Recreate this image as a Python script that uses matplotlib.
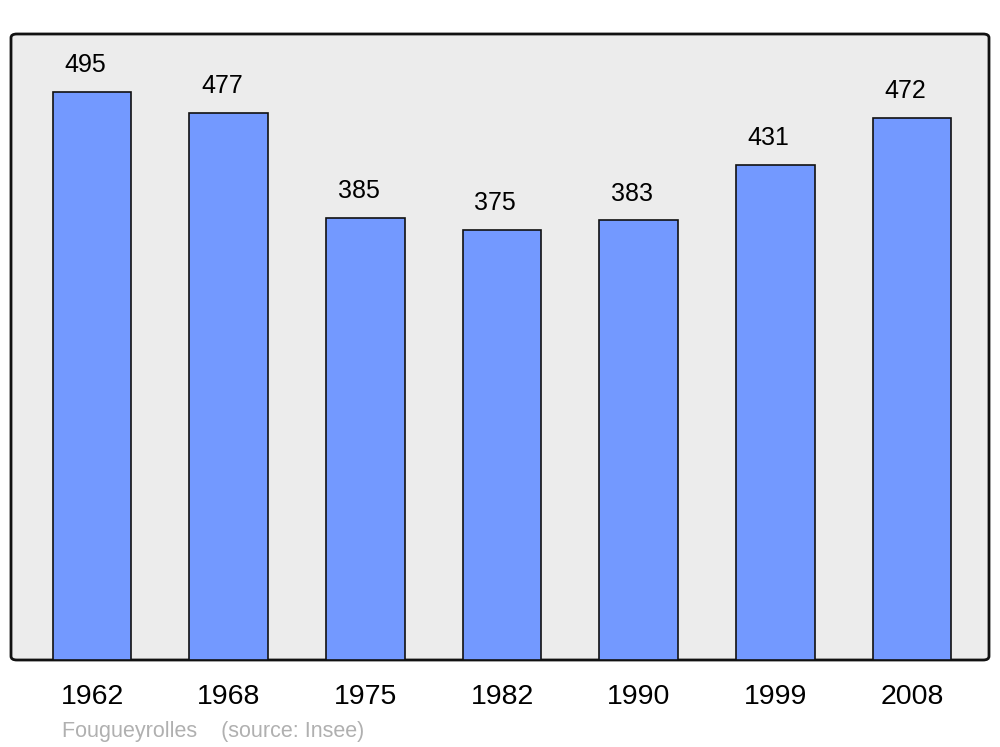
import matplotlib.pyplot as plt
from matplotlib.patches import FancyBboxPatch

years = ['1962', '1968', '1975', '1982', '1990', '1999', '2008']
population = [495, 477, 385, 375, 383, 431, 472]

plt.rcParams['font.family'] = ['Liberation Sans', 'DejaVu Sans']

fig = plt.figure(figsize=(10, 7.47), dpi=100)
ax = fig.add_axes([0.011, 1 - 660 / 747, 0.978, 626 / 747])
ax.set_facecolor('none')

# rounded background frame, drawn behind the bars
frame = FancyBboxPatch((0, 0), 1, 1,
                       boxstyle='round,pad=0,rounding_size=0.006',
                       transform=ax.transAxes, facecolor='#ececec',
                       edgecolor='#111111', linewidth=2, zorder=0,
                       clip_on=False)
ax.add_patch(frame)

x = range(len(years))
bars = ax.bar(x, population, width=0.575, color='#7399ff',
              edgecolor='#111111', linewidth=1.2, zorder=2)
for b, v in zip(bars, population):
    ax.text(b.get_x() + b.get_width() / 2 - 0.05, v + 13, str(v),
            ha='center', va='bottom', fontsize=18, zorder=3)

ax.set_xlim(-0.593, 6.563)
ax.set_ylim(0, 545.5)
for s in ax.spines.values():
    s.set_visible(False)
ax.set_yticks([])
ax.set_xticks(list(x))
ax.set_xticklabels(years, fontsize=20.5)
ax.tick_params(axis='x', length=0, pad=17)

fig.text(0.062, 1 - 731 / 747, 'Fougueyrolles    (source: Insee)',
         fontsize=15.5, color='#b0b0b0', va='center')

fig.savefig('out.png', dpi=100)
